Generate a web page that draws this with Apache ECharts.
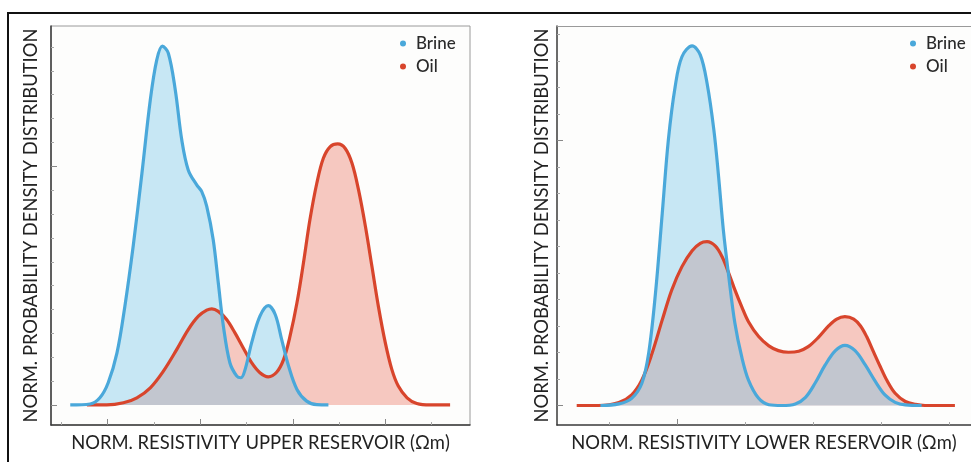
<!DOCTYPE html>
<html>
<head>
<meta charset="utf-8">
<script src="https://cdn.jsdelivr.net/npm/echarts@6/dist/echarts.min.js"></script>
<style>
  html, body { margin: 0; padding: 0; background: #fff; }
  #chart { width: 971px; height: 462px; }
</style>
</head>
<body>
<div id="chart"></div>
<script>
(function() {
	'use strict';

	// curves: [resistivity, density] in tick units
	var upperBrine = [
		[1.19, 0], [1.62, 0.04], [1.83, 0.30], [2.01, 0.93], [2.20, 2.18], [2.37, 4.13],
		[2.55, 6.65], [2.74, 9.72], [2.92, 12.78], [3.06, 14.46], [3.18, 15.04], [3.31, 14.74],
		[3.46, 13.20], [3.60, 11.11], [3.74, 9.85], [3.92, 9.23], [4.03, 8.95], [4.14, 8.32],
		[4.28, 6.92], [4.39, 5.11], [4.50, 3.30], [4.64, 1.77], [4.79, 1.21], [4.88, 1.14],
		[4.97, 1.49], [5.11, 2.60], [5.29, 3.72], [5.47, 4.16], [5.62, 3.79], [5.76, 2.74],
		[5.91, 1.62], [6.09, 0.65], [6.30, 0.16], [6.52, 0.01], [6.77, 0]
	];
	var upperOil = [
		[1.55, 0], [1.98, 0], [2.34, 0.09], [2.63, 0.30], [2.92, 0.72], [3.20, 1.41],
		[3.49, 2.32], [3.74, 3.16], [3.96, 3.72], [4.14, 3.97], [4.25, 4.03], [4.39, 3.92],
		[4.57, 3.58], [4.75, 3.02], [4.93, 2.39], [5.11, 1.77], [5.29, 1.35], [5.47, 1.18],
		[5.65, 1.37], [5.80, 1.90], [5.94, 2.88], [6.09, 4.28], [6.23, 5.95], [6.37, 7.76],
		[6.52, 9.30], [6.66, 10.34], [6.81, 10.83], [6.97, 10.94], [7.13, 10.76], [7.28, 10.13],
		[7.42, 9.02], [7.57, 7.48], [7.71, 5.81], [7.85, 4.13], [8.00, 2.60], [8.14, 1.49],
		[8.28, 0.79], [8.47, 0.30], [8.68, 0.06], [8.97, 0], [9.40, 0]
	];
	var lowerBrine = [
		[3.87, 0], [4.14, 0.06], [4.33, 0.27], [4.48, 0.84], [4.58, 1.97], [4.68, 4.23],
		[4.78, 7.25], [4.87, 10.02], [4.97, 12.03], [5.07, 13.16], [5.22, 13.57], [5.34, 13.23],
		[5.44, 12.16], [5.54, 10.40], [5.61, 8.63], [5.68, 6.62], [5.76, 4.86], [5.85, 3.10],
		[5.95, 1.84], [6.05, 0.96], [6.20, 0.27], [6.35, 0.03], [6.54, 0], [6.74, 0.06],
		[6.89, 0.31], [7.03, 0.84], [7.18, 1.53], [7.33, 2.07], [7.47, 2.27], [7.62, 2.07],
		[7.77, 1.53], [7.92, 0.90], [8.06, 0.40], [8.21, 0.12], [8.36, 0.02], [8.60, 0]
	];
	var lowerOil = [
		[3.52, 0], [3.84, 0], [4.14, 0.11], [4.33, 0.40], [4.48, 0.96], [4.63, 1.97],
		[4.78, 3.23], [4.92, 4.36], [5.07, 5.24], [5.22, 5.84], [5.34, 6.12], [5.44, 6.18],
		[5.56, 6.02], [5.66, 5.62], [5.76, 4.99], [5.85, 4.36], [5.95, 3.73], [6.05, 3.16],
		[6.20, 2.60], [6.35, 2.25], [6.49, 2.07], [6.64, 2.01], [6.79, 2.05], [6.93, 2.22],
		[7.08, 2.57], [7.23, 3.00], [7.35, 3.26], [7.47, 3.35], [7.60, 3.26], [7.70, 3.00],
		[7.79, 2.60], [7.89, 2.03], [7.99, 1.47], [8.09, 0.94], [8.21, 0.46], [8.36, 0.15],
		[8.51, 0.04], [8.65, 0], [9.09, 0]
	];

	// tick positions (no labels are shown on either axis)
	var upperMinorX = [1, 3, 5, 7, 9];
	var upperMajorX = [2, 4, 6, 8];
	var upperMinorY = [0, 1, 2, 3, 4, 5, 6, 7, 8, 9, 10, 11, 12, 13, 14, 15];
	var upperMajorY = [0, 10];
	var lowerMinorX = [4, 6, 7, 8, 9];
	var lowerMajorX = [5];
	var lowerMinorY = [0, 1, 2, 3, 4, 5, 6, 7, 8, 9, 10, 11, 12, 13, 14];
	var lowerMajorY = [0, 10];

	var seriesNames = ['Brine', 'Oil'];
	var axisTitles = {
		upperX: 'NORM. RESISTIVITY UPPER RESERVOIR (Ωm)',
		lowerX: 'NORM. RESISTIVITY LOWER RESERVOIR (Ωm)',
		y: 'NORM. PROBABILITY DENSITY DISTRIBUTION'
	};

	var FONT = 'Lato, "Open Sans", sans-serif';
	var BLUE = '#4aa8da';
	var RED = '#d8452c';
	var TICK = '#a8a8a8';
	var BOX = '#9a9a9a';

	var chart = echarts.init(document.getElementById('chart'), null, { renderer: 'canvas' });

	function axisPair(dim, gridIndex, min, max, minor, major, title, gap) {
		var main = {
			type: 'value',
			gridIndex: gridIndex,
			min: min,
			max: max,
			position: dim === 'x' ? 'bottom' : 'left',
			name: title,
			nameLocation: 'middle',
			nameGap: gap,
			nameTextStyle: { fontFamily: FONT, fontSize: 18.4, color: '#222' },
			axisLine: { show: true, onZero: false, lineStyle: { color: '#3a3a3a', width: 1.5 } },
			axisTick: { show: true, inside: true, length: 3, customValues: minor, lineStyle: { color: TICK } },
			axisLabel: { show: false },
			splitLine: { show: false }
		};
		var ticks = {
			type: 'value',
			gridIndex: gridIndex,
			min: min,
			max: max,
			position: dim === 'x' ? 'bottom' : 'left',
			axisLine: { show: false, onZero: false },
			axisTick: { show: true, inside: true, length: 6, customValues: major, lineStyle: { color: '#888' } },
			axisLabel: { show: false },
			splitLine: { show: false }
		};
		return [main, ticks];
	}

	function panelSeries(xIdx, yIdx, brine, oil) {
		var base = { type: 'line', xAxisIndex: xIdx, yAxisIndex: yIdx, symbol: 'none', smooth: 0.35, silent: true };
		return [
			Object.assign({}, base, {
				name: seriesNames[1], data: oil,
				itemStyle: { color: RED },
				lineStyle: { width: 0, opacity: 0 },
				areaStyle: { color: '#f6c8c0', opacity: 1 }
			}),
			Object.assign({}, base, {
				name: seriesNames[0], data: brine,
				itemStyle: { color: BLUE },
				lineStyle: { width: 0, opacity: 0 },
				areaStyle: { color: 'rgba(110,195,232,0.38)', opacity: 1 }
			}),
			Object.assign({}, base, {
				name: seriesNames[1], data: oil,
				itemStyle: { color: RED },
				lineStyle: { color: RED, width: 3.2 }
			}),
			Object.assign({}, base, {
				name: seriesNames[0], data: brine,
				itemStyle: { color: BLUE },
				lineStyle: { color: BLUE, width: 3.2 }
			})
		];
	}

	function legend(left) {
		return {
			orient: 'vertical',
			left: left,
			top: 30,
			data: seriesNames,
			icon: 'circle',
			itemWidth: 6,
			itemHeight: 6,
			itemGap: 6,
			selectedMode: false,
			textStyle: { fontFamily: FONT, fontSize: 17, fontWeight: 500, color: '#2a2a2a', padding: [0, 0, 0, 5] }
		};
	}

	var option = {
		backgroundColor: '#fff',
		animation: false,
		graphic: [{
			type: 'rect',
			shape: { x: 8, y: 13, width: 1000, height: 500 },
			style: { fill: null, stroke: '#111', lineWidth: 2 },
			silent: true
		}],
		grid: [
			{ left: 51, top: 26, width: 419, height: 399, show: true, borderColor: BOX, borderWidth: 1, backgroundColor: '#fdfdfc' },
			// right panel runs off the picture: no right border, top edge drawn by a bare axis
			{ left: 557, top: 26, right: 0, height: 399, show: true, borderWidth: 0, backgroundColor: '#fdfdfc' }
		],
		legend: [legend(395), legend(905)],
		xAxis: []
			.concat(axisPair('x', 0, 0.774, 9.83, upperMinorX, upperMajorX, axisTitles.upperX, 9))
			.concat(axisPair('x', 1, 3.23, 9.327, lowerMinorX, lowerMajorX, axisTitles.lowerX, 9))
			.concat([{
				type: 'value', gridIndex: 1, min: 3.23, max: 9.327, position: 'top',
				axisLine: { show: true, onZero: false, lineStyle: { color: BOX, width: 1 } },
				axisTick: { show: false }, axisLabel: { show: false }, splitLine: { show: false }
			}]),
		yAxis: []
			.concat(axisPair('y', 0, -0.84, 15.88, upperMinorY, upperMajorY, axisTitles.y, 11))
			.concat(axisPair('y', 1, -0.736, 14.32, lowerMinorY, lowerMajorY, axisTitles.y, 6)),
		series: []
			.concat(panelSeries(0, 0, upperBrine, upperOil))
			.concat(panelSeries(2, 2, lowerBrine, lowerOil))
	};

	chart.setOption(option);
})();
</script>
</body>
</html>
